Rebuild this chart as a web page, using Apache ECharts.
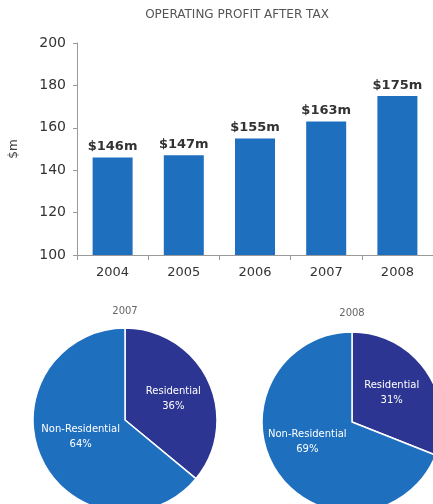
<!DOCTYPE html>
<html>
<head>
<meta charset="utf-8">
<script src="https://cdn.jsdelivr.net/npm/echarts@6/dist/echarts.min.js"></script>
<style>
html,body{margin:0;padding:0;background:#fff;}
#chart{width:433px;height:504px;}
</style>
</head>
<body>
<div id="chart"></div>
<script>
var years = ['2004', '2005', '2006', '2007', '2008'];
var profit = [146, 147, 155, 163, 175];
var yTicks = [100, 120, 140, 160, 180, 200];
var segments = ['Residential', 'Non-Residential'];
var split2007 = [36, 64];
var split2008 = [31, 69];
var pieYears = ['2007', '2008'];

var FONT = 'DejaVu Sans';
var barBlue = '#1f6fbf';
var navy = '#2c3592';

function pieData(vals, offsets) {
  return segments.map(function (name, i) {
    return {
      name: name,
      value: vals[i],
      itemStyle: { color: i === 0 ? navy : barBlue },
      label: { offset: offsets[i] }
    };
  });
}

function pieSeries(vals, center, radius, offsets) {
  return {
    type: 'pie',
    center: center,
    radius: radius,
    startAngle: 90,
    clockwise: true,
    silent: true,
    animation: false,
    itemStyle: { borderColor: '#ffffff', borderWidth: 1.5 },
    label: {
      show: true,
      position: 'inside',
      color: '#ffffff',
      fontFamily: FONT,
      fontSize: 10,
      lineHeight: 15,
      formatter: function (p) { return p.name + '\n' + p.value + '%'; }
    },
    labelLine: { show: false },
    data: pieData(vals, offsets)
  };
}

var chart = echarts.init(document.getElementById('chart'), null, { renderer: 'canvas' });
chart.setOption({
  backgroundColor: '#ffffff',
  animation: false,
  title: [
    { text: 'OPERATING PROFIT AFTER TAX', left: 237, top: 9, padding: 0, textAlign: 'center',
      textStyle: { fontFamily: FONT, fontSize: 12, fontWeight: 'normal', color: '#555' } },
    { text: pieYears[0], left: 125, top: 306, padding: 0, textAlign: 'center',
      textStyle: { fontFamily: FONT, fontSize: 10, fontWeight: 'normal', color: '#666' } },
    { text: pieYears[1], left: 352, top: 308, padding: 0, textAlign: 'center',
      textStyle: { fontFamily: FONT, fontSize: 10, fontWeight: 'normal', color: '#666' } }
  ],
  grid: { left: 73, top: 43, width: 362, height: 212, containLabel: false },
  xAxis: {
    type: 'category',
    data: years,
    boundaryGap: true,
    axisLine: { lineStyle: { color: '#999', width: 1 } },
    axisTick: { show: true, length: 5, lineStyle: { color: '#999' } },
    axisLabel: { fontFamily: FONT, fontSize: 13, color: '#333', margin: 11 }
  },
  yAxis: {
    type: 'value',
    min: yTicks[0],
    max: yTicks[yTicks.length - 1],
    interval: yTicks[1] - yTicks[0],
    name: '$m',
    nameLocation: 'middle',
    nameGap: 57,
    nameRotate: 90,
    nameTextStyle: { fontFamily: FONT, fontSize: 12, color: '#444' },
    splitLine: { show: false },
    axisLine: { show: true, lineStyle: { color: '#999', width: 1 } },
    axisTick: { show: true, length: 4, lineStyle: { color: '#999' } },
    axisLabel: { fontFamily: FONT, fontSize: 14, color: '#333', margin: 11 }
  },
  series: [
    {
      type: 'bar',
      data: profit,
      barWidth: 40,
      itemStyle: { color: barBlue },
      label: {
        show: true,
        position: 'top',
        distance: 4,
        fontFamily: FONT,
        fontSize: 13,
        fontWeight: 'bold',
        color: '#333',
        formatter: function (p) { return '$' + p.value + 'm'; }
      }
    },
    pieSeries(split2007, [125, 420], 92, [[4, 0], [0, -4]]),
    pieSeries(split2008, [352, 422], 90, [[0, -2], [-5, -7]])
  ]
});
</script>
</body>
</html>
